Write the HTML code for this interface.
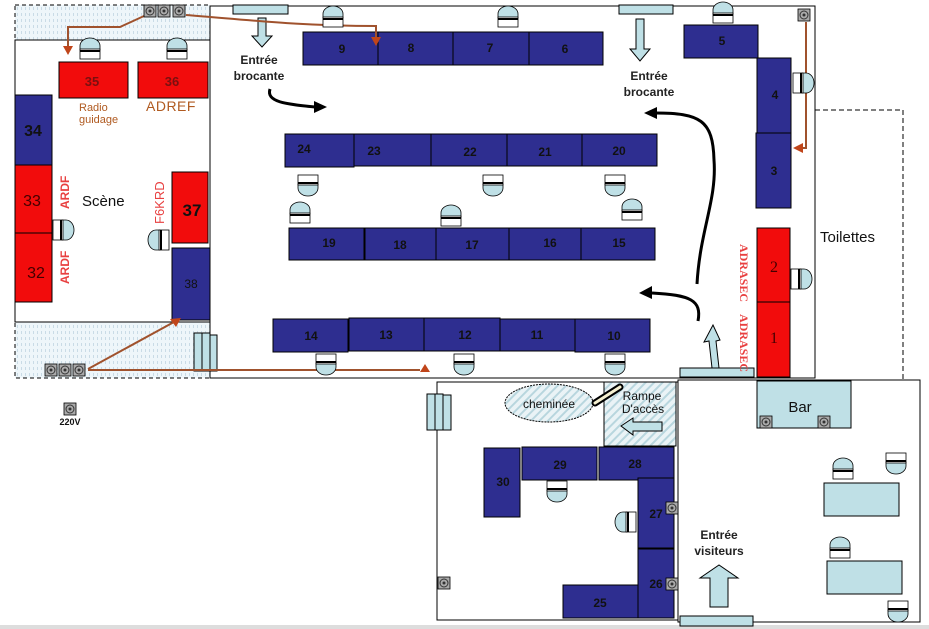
<!DOCTYPE html>
<html><head><meta charset="utf-8"><style>
html,body{margin:0;padding:0;background:#fff;width:929px;height:629px;overflow:hidden}
svg{display:block;font-family:"Liberation Sans",sans-serif}
.t{fill:#2e2e90;stroke:#000;stroke-width:1}
.r{fill:#f20c0c;stroke:#000;stroke-width:1}
.lb{fill:#bfe0e6;stroke:#000;stroke-width:1}
.n{font-size:12px;fill:#111;text-anchor:middle}
.b{font-weight:bold}
</style></head><body>
<svg width="929" height="629" viewBox="0 0 929 629" xmlns="http://www.w3.org/2000/svg">
<defs>
<pattern id="dots" width="4" height="6" patternUnits="userSpaceOnUse"><rect width="4" height="6" fill="#eef6fa"/><rect x="1" y="1" width="1" height="3" fill="#c9dbe6"/></pattern>
<pattern id="hatch" width="6" height="6" patternUnits="userSpaceOnUse" patternTransform="rotate(45)"><rect width="6" height="6" fill="#eaf3f6"/><rect width="2" height="6" fill="#b8d6de"/></pattern>
<g id="ch"><path d="M-10,0 V-4 A10,8 0 0 1 10,-4 V0 Z" fill="#bfe0e6" stroke="#000" stroke-width="0.8"/><rect x="-10" y="-1" width="20" height="10" fill="#fff" stroke="#000" stroke-width="0.8"/><line x1="-10" y1="1" x2="10" y2="1" stroke="#000" stroke-width="2"/></g>
<g id="ou"><rect x="0" y="0" width="12" height="12" fill="#aaa" stroke="#000" stroke-width="0.8"/><circle cx="6" cy="6" r="4" fill="none" stroke="#333" stroke-width="1"/><circle cx="6" cy="6" r="1.5" fill="#333"/></g>
</defs>
<rect width="929" height="629" fill="#fff"/>
<rect x="0" y="625" width="929" height="4" fill="#ddd"/>

<rect x="15" y="5" width="195" height="35" fill="url(#dots)" stroke="#000" stroke-dasharray="4,3"/>
<rect x="15" y="322" width="195" height="56" fill="url(#dots)" stroke="#000" stroke-dasharray="4,3"/>
<rect x="815" y="110" width="88" height="270" fill="none" stroke="#000" stroke-dasharray="5,3"/>

<rect x="15" y="40" width="195" height="282" fill="#fff" stroke="#000"/>
<rect x="210" y="6" width="605" height="372" fill="#fff" stroke="#000"/>
<rect x="437" y="382" width="241" height="238" fill="#fff" stroke="#000"/>
<rect x="678" y="380" width="242" height="242" fill="#fff" stroke="#000"/>

<rect x="233" y="5" width="55" height="9" class="lb"/>
<rect x="619" y="5" width="54" height="9" class="lb"/>
<rect x="680" y="368" width="74" height="9" class="lb"/>
<rect x="680" y="616" width="73" height="10" class="lb"/>
<rect x="194" y="333" width="8" height="38" class="lb"/><rect x="202" y="333" width="8" height="38" class="lb"/><rect x="210" y="335" width="7" height="36" class="lb"/>
<rect x="427" y="394" width="8" height="36" class="lb"/><rect x="435" y="394" width="8" height="36" class="lb"/><rect x="443" y="395" width="8" height="35" class="lb"/>

<rect x="604" y="382" width="72" height="64" fill="url(#hatch)" stroke="#000"/>
<ellipse cx="549" cy="403" rx="44" ry="19" fill="url(#hatch)" stroke="#000" stroke-dasharray="2,1"/>
<line x1="595" y1="403" x2="620" y2="387" stroke="#000" stroke-width="7" stroke-linecap="round"/>
<line x1="595" y1="403" x2="620" y2="387" stroke="#f5f0d0" stroke-width="3" stroke-linecap="round"/>
<text x="549" y="408" class="n" font-size="11">cheminée</text>
<text x="642" y="400" class="n" font-size="11">Rampe</text>
<text x="643" y="413" class="n" font-size="11">D'accès</text>
<path d="M621,426 L633,418 V422 H662 V431 H633 V435 Z" class="lb"/>

<rect x="757" y="381" width="94" height="47" class="lb"/>
<text x="800" y="412" font-size="15" fill="#111" text-anchor="middle">Bar</text>
<rect x="824" y="483" width="75" height="33" class="lb"/>
<rect x="827" y="561" width="75" height="33" class="lb"/>

<g class="t">
<rect x="303" y="32" width="75" height="33"/><rect x="378" y="32" width="75" height="33"/><rect x="453" y="32" width="76" height="33"/><rect x="529" y="32" width="74" height="33"/>
<rect x="684" y="25" width="74" height="33"/>
<rect x="757" y="58" width="34" height="75"/><rect x="756" y="133" width="35" height="75"/>
<rect x="285" y="134" width="69" height="33"/><rect x="354" y="134" width="77" height="32"/><rect x="431" y="134" width="76" height="32"/><rect x="507" y="134" width="75" height="32"/><rect x="582" y="134" width="75" height="32"/>
<rect x="289" y="228" width="75" height="32"/><rect x="365" y="228" width="71" height="32"/><rect x="436" y="228" width="73" height="32"/><rect x="509" y="228" width="72" height="32"/><rect x="581" y="228" width="74" height="32"/>
<rect x="273" y="319" width="75" height="33"/><rect x="349" y="318" width="75" height="33"/><rect x="424" y="318" width="76" height="33"/><rect x="500" y="319" width="75" height="32"/><rect x="575" y="319" width="75" height="33"/>
<rect x="15" y="95" width="37" height="70"/>
<rect x="172" y="248" width="38" height="72"/>
<rect x="484" y="448" width="36" height="69"/><rect x="522" y="447" width="75" height="33"/><rect x="599" y="447" width="75" height="33"/>
<rect x="638" y="478" width="36" height="70"/><rect x="638" y="549" width="36" height="69"/><rect x="563" y="585" width="75" height="33"/>
</g>
<g class="r">
<rect x="757" y="228" width="33" height="74"/><rect x="757" y="302" width="33" height="75"/>
<rect x="15" y="165" width="37" height="68"/><rect x="15" y="233" width="37" height="69"/>
<rect x="59" y="62" width="69" height="36"/><rect x="138" y="62" width="70" height="36"/>
<rect x="172" y="172" width="36" height="71"/>
</g>

<g class="n b">
<text x="342" y="53">9</text><text x="411" y="52">8</text><text x="490" y="52">7</text><text x="565" y="53">6</text><text x="722" y="45">5</text>
<text x="775" y="99">4</text><text x="774" y="175">3</text>
<text x="304" y="153">24</text><text x="374" y="155">23</text><text x="470" y="156">22</text><text x="545" y="156">21</text><text x="619" y="155">20</text>
<text x="329" y="247">19</text><text x="400" y="249">18</text><text x="472" y="249">17</text><text x="550" y="247">16</text><text x="619" y="247">15</text>
<text x="311" y="340">14</text><text x="386" y="339">13</text><text x="465" y="339">12</text><text x="537" y="339">11</text><text x="614" y="340">10</text>
<text x="503" y="486">30</text><text x="560" y="469">29</text><text x="635" y="468">28</text><text x="656" y="518">27</text><text x="656" y="588">26</text><text x="600" y="607">25</text>
<text x="191" y="288" font-weight="normal">38</text>
</g>
<g font-weight="bold" fill="#111" text-anchor="middle">
<text x="33" y="136" font-size="16">34</text>
<text x="92" y="86" font-size="13" fill="#7a1010">35</text><text x="172" y="86" font-size="13" fill="#7a1010">36</text>
<text x="192" y="216" font-size="17">37</text>
</g>
<g fill="#400" text-anchor="middle" font-size="16">
<text x="32" y="206">33</text><text x="36" y="278">32</text>
<text x="774" y="272" font-family="Liberation Serif">2</text><text x="774" y="343" font-family="Liberation Serif">1</text>
</g>
<g fill="#e84040" font-weight="bold" font-size="12">
<text transform="translate(69,209) rotate(-90)">ARDF</text>
<text transform="translate(69,284) rotate(-90)">ARDF</text>
<text transform="translate(164,224) rotate(-90)" font-weight="normal" font-size="13">F6KRD</text>
<text transform="translate(740,244) rotate(90)" font-family="Liberation Serif" font-size="12">ADRASEC</text>
<text transform="translate(740,314) rotate(90)" font-family="Liberation Serif" font-size="12">ADRASEC</text>
</g>
<text x="79" y="111" font-size="11" fill="#b05a20">Radio</text>
<text x="79" y="123" font-size="11" fill="#b05a20">guidage</text>
<text x="146" y="111" font-size="14" fill="#b05a20" letter-spacing="0.5">ADREF</text>
<text x="82" y="206" font-size="15" fill="#111">Scène</text>
<text x="820" y="242" font-size="15" fill="#111">Toilettes</text>
<g font-weight="bold" font-size="12" fill="#222" text-anchor="middle">
<text x="259" y="64">Entrée</text><text x="259" y="80">brocante</text>
<text x="649" y="80">Entrée</text><text x="649" y="96">brocante</text>
<text x="719" y="539">Entrée</text><text x="719" y="555">visiteurs</text>
</g>
<text x="70" y="425" font-size="9" fill="#111" text-anchor="middle" font-weight="bold">220V</text>

<path d="M258,18 H266 V36 H272 L262,47 L252,36 H258 Z" class="lb"/>
<path d="M636,19 H644 V49 H650 L640,61 L630,49 H636 Z" class="lb"/>
<path d="M712,368 L709,341 L704,342 L713,325 L720,340 L716,341 L719,368 Z" class="lb"/>
<path d="M710,607 V578 H700 L719,565 L738,578 H728 V607 Z" class="lb"/>

<g fill="none" stroke="#000" stroke-width="3">
<path d="M270,89 C266,102 285,104 315,107"/>
<path d="M697,284 C700,230 717,200 714,160 C713,120 700,113 655,113"/>
<path d="M698,321 C702,300 690,295 652,293"/>
</g>
<g fill="#000">
<path d="M327,107 L314,101 L314,113 Z"/>
<path d="M644,113 L657,107 L657,119 Z"/>
<path d="M639,293 L652,286 L652,299 Z"/>
</g>

<g fill="none" stroke="#a0522d" stroke-width="2">
<path d="M186,15 C250,20 300,26 376,26 V40"/>
<path d="M144,16 L120,27 H68 V48"/>
<path d="M806,22 V148 H797"/>
<path d="M88,369 L174,322"/>
<path d="M88,370 H420"/>
</g>
<g fill="#c0451a">
<path d="M376,46 L371,37 L381,37 Z"/>
<path d="M68,55 L63,46 L73,46 Z"/>
<path d="M793,148 L803,143 L803,153 Z"/>
<path d="M181,318 L170,319 L176,327 Z"/>
<path d="M425,364 L420,372 L430,372 Z"/>
</g>

<use href="#ou" x="144" y="5"/><use href="#ou" x="158" y="5"/><use href="#ou" x="173" y="5"/>
<use href="#ou" x="45" y="364"/><use href="#ou" x="59" y="364"/><use href="#ou" x="73" y="364"/>
<use href="#ou" x="798" y="9"/><use href="#ou" x="64" y="403"/><use href="#ou" x="438" y="577"/>
<use href="#ou" x="666" y="502"/><use href="#ou" x="666" y="578"/>
<use href="#ou" x="760" y="416"/><use href="#ou" x="818" y="416"/>

<use href="#ch" transform="translate(90,50)"/>
<use href="#ch" transform="translate(177,50)"/>
<use href="#ch" transform="translate(333,18)"/>
<use href="#ch" transform="translate(508,18)"/>
<use href="#ch" transform="translate(723,14)"/>
<use href="#ch" transform="translate(802,83) rotate(90)"/>
<use href="#ch" transform="translate(308,184) rotate(180)"/>
<use href="#ch" transform="translate(493,184) rotate(180)"/>
<use href="#ch" transform="translate(615,184) rotate(180)"/>
<use href="#ch" transform="translate(300,214)"/>
<use href="#ch" transform="translate(451,217)"/>
<use href="#ch" transform="translate(632,211)"/>
<use href="#ch" transform="translate(326,363) rotate(180)"/>
<use href="#ch" transform="translate(464,363) rotate(180)"/>
<use href="#ch" transform="translate(615,363) rotate(180)"/>
<use href="#ch" transform="translate(800,279) rotate(90)"/>
<use href="#ch" transform="translate(62,230) rotate(90)"/>
<use href="#ch" transform="translate(160,240) rotate(-90)"/>
<use href="#ch" transform="translate(557,490) rotate(180)"/>
<use href="#ch" transform="translate(627,522) rotate(-90)"/>
<use href="#ch" transform="translate(843,470)"/>
<use href="#ch" transform="translate(896,462) rotate(180)"/>
<use href="#ch" transform="translate(840,549)"/>
<use href="#ch" transform="translate(898,610) rotate(180)"/>
</svg>
</body></html>
